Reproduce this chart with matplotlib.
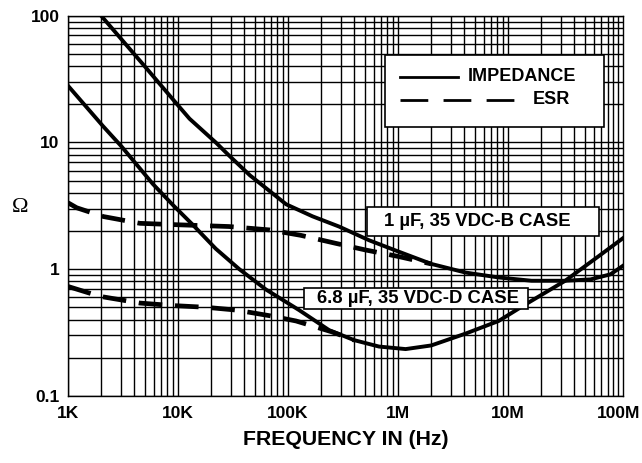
import numpy as np
import matplotlib
matplotlib.use("Agg")
import matplotlib.pyplot as plt
from matplotlib.ticker import LogLocator, NullFormatter, FixedLocator, FixedFormatter
from matplotlib.patches import Rectangle
from matplotlib.lines import Line2D

plt.rcParams['font.family'] = ['Liberation Sans', 'DejaVu Sans']

# 1 uF, 35 VDC - B case
f_1uF_z = [2.0e3, 5.0e3, 1.0e4, 1.27e4, 2.2e4, 2.9e4, 4.5e4, 5.9e4, 9.6e4, 1.67e5,
           2.9e5, 5.45e5, 1.0e6, 2.0e6, 4.1e6, 8.2e6, 1.63e7, 3.3e7, 5.6e7, 8.5e7, 1.1e8]
z_1uF = [100, 39.7, 19.6, 15.4, 10, 7.9, 5.5, 4.56, 3.25, 2.61,
         2.17, 1.69, 1.38, 1.1, 0.94, 0.86, 0.81, 0.81, 0.83, 0.91, 1.06]
f_1uF_esr = [1.0e3, 1.2e3, 2.1e3, 4.5e3, 1.0e4, 2.9e4, 6.8e4, 1.3e5, 2.7e5,
             5.0e5, 1.0e6, 2.0e6]
esr_1uF = [3.34, 3.05, 2.6, 2.3, 2.24, 2.17, 2.04, 1.85, 1.6,
           1.42, 1.26, 1.1]

# 6.8 uF, 35 VDC - D case
f_68uF_z = [1.0e3, 2.07e3, 3.06e3, 5.9e3, 9.0e3, 1.36e4, 2.2e4, 3.6e4, 6.3e4, 9.6e4,
            1.26e5, 2.36e5, 4.0e5, 6.7e5, 1.17e6, 2.0e6, 4.1e6, 8.2e6, 1.4e7, 3.3e7,
            6.6e7, 1.1e8]
z_68uF = [28, 13.5, 9.3, 4.7, 3.2, 2.24, 1.45, 1.0, 0.69, 0.55,
          0.475, 0.33, 0.275, 0.245, 0.234, 0.25, 0.31, 0.39, 0.52, 0.81,
          1.26, 1.75]
f_68uF_esr = [1.0e3, 1.95e3, 4.5e3, 9.0e3, 1.8e4, 3.4e4, 6.7e4, 1.18e5, 2.5e5, 4.0e5]
esr_68uF = [0.73, 0.61, 0.54, 0.516, 0.5, 0.475, 0.43, 0.39, 0.32, 0.275]

x_ticks = [1e3, 1e4, 1e5, 1e6, 1e7, 1e8]
x_labels = ['1K', '10K', '100K', '1M', '10M', '100M']
y_ticks = [0.1, 1, 10, 100]
y_labels = ['0.1', '1', '10', '100']

fig = plt.figure(figsize=(6.42, 4.63), dpi=100)
ax = fig.add_axes([0.106, 0.145, 0.864, 0.821])

lw_main = 2.8
ax.plot(f_1uF_z, z_1uF, '-', color='black', lw=lw_main, zorder=4, solid_joinstyle='round')
ax.plot(f_68uF_z, z_68uF, '-', color='black', lw=lw_main, zorder=4, solid_joinstyle='round')
ax.plot(f_1uF_esr, esr_1uF, color='black', lw=3.4, dashes=(5, 2.7),
        dash_capstyle='butt', zorder=3)
ax.plot(f_68uF_esr, esr_68uF, color='black', lw=3.4, dashes=(5, 2.7),
        dash_capstyle='butt', zorder=3)

ax.set_xscale('log')
ax.set_yscale('log')
ax.set_xlim(1e3, 1.1e8)
ax.set_ylim(0.1, 100)

ax.xaxis.set_major_locator(FixedLocator(x_ticks))
ax.xaxis.set_major_formatter(FixedFormatter(x_labels))
ax.yaxis.set_major_locator(FixedLocator(y_ticks))
ax.yaxis.set_major_formatter(FixedFormatter(y_labels))
ax.xaxis.set_minor_locator(LogLocator(base=10, subs=np.arange(2, 10), numticks=20))
ax.yaxis.set_minor_locator(LogLocator(base=10, subs=np.arange(2, 10), numticks=20))
ax.xaxis.set_minor_formatter(NullFormatter())
ax.yaxis.set_minor_formatter(NullFormatter())
ax.tick_params(which='both', length=0)
ax.tick_params(axis='x', pad=7, labelsize=12.5)
ax.tick_params(axis='y', pad=6, labelsize=12.5)
for lab in ax.get_xticklabels() + ax.get_yticklabels():
    lab.set_fontweight('bold')

ax.grid(which='both', color='black', lw=1.0)
ax.set_axisbelow(True)
for s in ax.spines.values():
    s.set_linewidth(1.0)

ax.set_xlabel('FREQUENCY IN (Hz)', fontsize=15.3, fontweight='bold')
ax.xaxis.set_label_coords(0.5, -0.116)
ax.xaxis.label.set_va('center')
ax.set_ylabel('Ω', rotation=0, fontsize=16, family=['Liberation Serif', 'DejaVu Serif'])
ax.yaxis.set_label_coords(-0.086, 0.495)
ax.yaxis.label.set_va('center')
ax.yaxis.label.set_ha('center')

# legend box
ax.add_patch(Rectangle((0.571, 0.708), 0.395, 0.189, transform=ax.transAxes,
                       facecolor='white', edgecolor='black', lw=1.2, zorder=6))
ax.add_line(Line2D([0.598, 0.703], [0.839, 0.839], transform=ax.transAxes,
                   color='black', lw=2.0, zorder=7))
ax.add_line(Line2D([0.598, 0.811], [0.779, 0.779], transform=ax.transAxes,
                   color='black', lw=2.0, dashes=(10, 5.5), zorder=7))
ax.text(0.721, 0.839, 'IMPEDANCE', transform=ax.transAxes, fontsize=13,
        fontweight='bold', va='center', ha='left', zorder=8)
ax.text(0.838, 0.779, 'ESR', transform=ax.transAxes, fontsize=13,
        fontweight='bold', va='center', ha='left', zorder=8)

# part labels
ax.add_patch(Rectangle((0.539, 0.421), 0.418, 0.076, transform=ax.transAxes,
                       facecolor='white', edgecolor='black', lw=1.2, zorder=6))
ax.text(0.738, 0.459, '1 µF, 35 VDC-B CASE', transform=ax.transAxes, fontsize=13.3,
        fontweight='bold', ha='center', va='center', zorder=8)
ax.add_patch(Rectangle((0.425, 0.229), 0.404, 0.055, transform=ax.transAxes,
                       facecolor='white', edgecolor='black', lw=1.2, zorder=6))
ax.text(0.630, 0.257, '6.8 µF, 35 VDC-D CASE', transform=ax.transAxes, fontsize=13.3,
        fontweight='bold', ha='center', va='center', zorder=8)

fig.savefig('out.png', dpi=100)
